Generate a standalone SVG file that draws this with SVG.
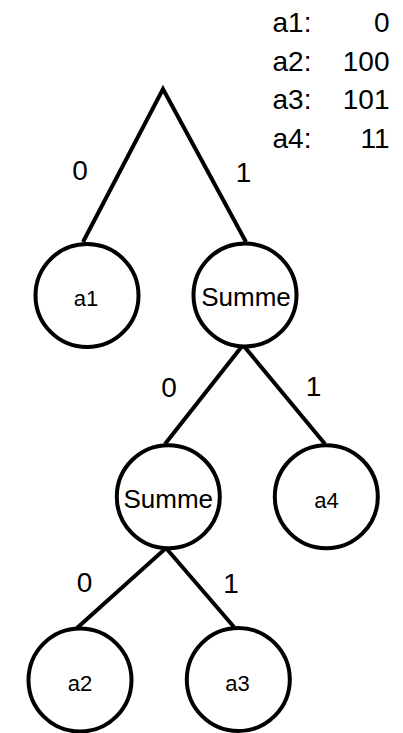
<svg xmlns="http://www.w3.org/2000/svg" width="403" height="733" viewBox="0 0 403 733">
<style>
.edge{fill:none;stroke:#000;stroke-width:4;stroke-linejoin:miter;stroke-miterlimit:10}
.node circle{fill:#fff;stroke:#000;stroke-width:4}
.node text{font-family:"Liberation Sans",Arial,sans-serif;font-size:22px;text-anchor:middle;fill:#000}
.node text.s{font-size:26px}
.lbl{font-family:"Liberation Sans",Arial,sans-serif;font-size:28px;text-anchor:middle;fill:#000}
.leg{font-family:"Liberation Sans",Arial,sans-serif;font-size:28px;fill:#000}
</style>
<rect width="403" height="733" fill="#fff"/>
<g id="connectors">
<polyline class="edge" points="83,242 163,89 246,242"/>
<polyline class="edge" points="165,444 243,345 325,444"/>
<polyline class="edge" points="77,628 166,548 234,627"/>
<text class="lbl" x="80" y="180">0</text>
<text class="lbl" x="243.5" y="182">1</text>
<text class="lbl" x="169" y="397">0</text>
<text class="lbl" x="313.5" y="396">1</text>
<text class="lbl" x="84.5" y="591.5">0</text>
<text class="lbl" x="231" y="593">1</text>
</g>
<g id="node-a1" class="node"><circle cx="87" cy="295.5" r="51.5"/><text x="86" y="306">a1</text></g>
<g id="node-summe1" class="node"><circle cx="245" cy="295" r="51.5"/><text class="s" x="246" y="306">Summe</text></g>
<g id="node-summe2" class="node"><circle cx="168.3" cy="496.7" r="51.5"/><text class="s" x="168.3" y="507.7">Summe</text></g>
<g id="node-a4" class="node"><circle cx="326.3" cy="496.7" r="51.5"/><text x="326.5" y="507.7">a4</text></g>
<g id="node-a2" class="node"><circle cx="80" cy="680" r="51.5"/><text x="80" y="691">a2</text></g>
<g id="node-a3" class="node"><circle cx="238.3" cy="679.5" r="51.5"/><text x="237.5" y="691">a3</text></g>
<g id="legend" class="leg">
<text x="272.5" y="32">a1:</text><text x="389.5" y="32" text-anchor="end">0</text>
<text x="272.5" y="70.5">a2:</text><text x="389.5" y="70.5" text-anchor="end">100</text>
<text x="272.5" y="109">a3:</text><text x="389.5" y="109" text-anchor="end">101</text>
<text x="272.5" y="147.5">a4:</text><text x="389.5" y="147.5" text-anchor="end">11</text>
</g>
</svg>
